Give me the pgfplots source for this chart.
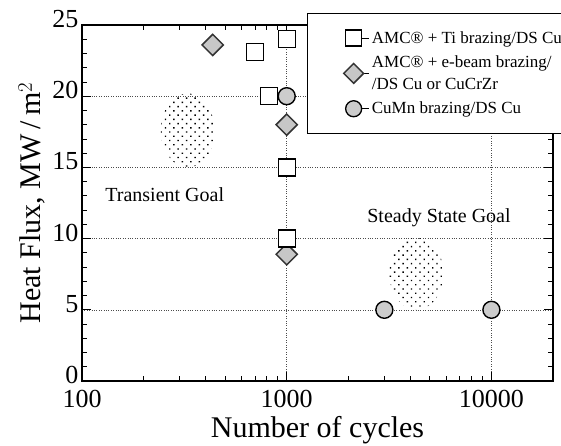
\documentclass[border=0pt]{standalone}
\usepackage{pgfplots}
\pgfplotsset{compat=1.18}
\usepackage{fontspec}
\setmainfont{Liberation Serif}
\usetikzlibrary{patterns.meta}
\pgfplotsset{mylegimg/.style={legend image code/.code={\path (0cm,0cm) -- (#1,0cm); \draw[##1] plot coordinates {(0.3cm,0cm)};}}}
\begin{document}
\begin{tikzpicture}
\begin{axis}[
  scale only axis, width=471pt, height=356pt,
  xmode=log, xmin=100, xmax=20000, ymin=0, ymax=25,
  xtick={100,1000,10000}, xticklabels={100,1000,10000},
  ytick={0,5,10,15,20,25},
  minor y tick num=4,
  minor xtick={200,300,400,500,600,700,800,900,2000,3000,4000,5000,6000,7000,8000,9000},
  tick align=inside,
  major tick length=9pt, minor tick length=5pt,
  grid=major,
  major grid style={dotted, black!70, line width=0.5pt},
  axis line style={line width=1.2pt},
  tick style={black, line width=0.8pt},
  ticklabel style={font=\fontsize{26}{26}\selectfont},
  xticklabel style={yshift=-6pt},
  yticklabel style={yshift=6pt},
  /pgf/number format/assume math mode=true,
  xlabel={Number of cycles},
  ylabel={Heat Flux, MW\,/\,m$^2$},
  label style={font=\fontsize{30}{30}\selectfont},
  xlabel style={yshift=-1pt},
  legend style={at={(0.478,1.034)}, anchor=north west,
    font=\fontsize{17}{22}\selectfont, draw=black, line width=1.2pt,
    cells={anchor=west, align=left}, row sep=7pt,
    inner xsep=36pt, inner ysep=16pt,
    fill=white},
  legend cell align=left,
]
\addlegendimage{only marks, mark=square*, mark size=8pt, mark options={fill=white, draw=black, line width=1.3pt}, mylegimg=0.85cm}
\addlegendentry{AMC\textregistered{} + Ti brazing/DS Cu}
\addlegendimage{only marks, mark=square*, mark size=7pt, mark options={rotate=45, fill=black!22, draw=black!80, line width=1.5pt}, mylegimg=0.85cm}
\addlegendentry{AMC\textregistered{} + e-beam brazing/\\/DS Cu or CuCrZr}
\addlegendimage{only marks, mark=*, mark size=8pt, mark options={fill=black!20, draw=black, line width=1.3pt}, mylegimg=0.85cm}
\addlegendentry{CuMn brazing/DS Cu}

\fill[pattern={Dots[distance=6pt, radius=1pt, angle=45]}, pattern color=black]
  (axis cs:329,17.6) ellipse [x radius=27pt, y radius=37pt];
\fill[pattern={Dots[distance=6pt, radius=1pt, angle=45]}, pattern color=black]
  (axis cs:4305,7.54) ellipse [x radius=27pt, y radius=36pt];

\node[anchor=base west, font=\fontsize{20}{20}\selectfont] at (axis cs:125,12.6) {Transient Goal};
\node[anchor=base west, font=\fontsize{20}{20}\selectfont] at (axis cs:2380,11.16) {Steady State Goal};

% AMC + e-beam brazing (diamonds)
\addplot[only marks, mark=square*, mark size=7.5pt,
  mark options={rotate=45, fill=black!22, draw=black!80, line width=1.5pt}, forget plot]
  coordinates {(435,23.6) (1000,18) (1000,8.9)};
% AMC + Ti brazing (squares)
\addplot[only marks, mark=square*, mark size=8.5pt,
  mark options={fill=white, draw=black, line width=1.4pt}, forget plot]
  coordinates {(700,23.1) (817,20) (1000,24) (1000,15) (1000,10)};
% CuMn brazing (circles)
\addplot[only marks, mark=*, mark size=8.5pt,
  mark options={fill=black!20, draw=black, line width=1.4pt}, forget plot]
  coordinates {(1000,20) (3000,5) (10000,5)};
\end{axis}
\pgfresetboundingbox
\path[use as bounding box] (-82pt,-65pt) rectangle (479pt,381pt);
\end{tikzpicture}
\end{document}
